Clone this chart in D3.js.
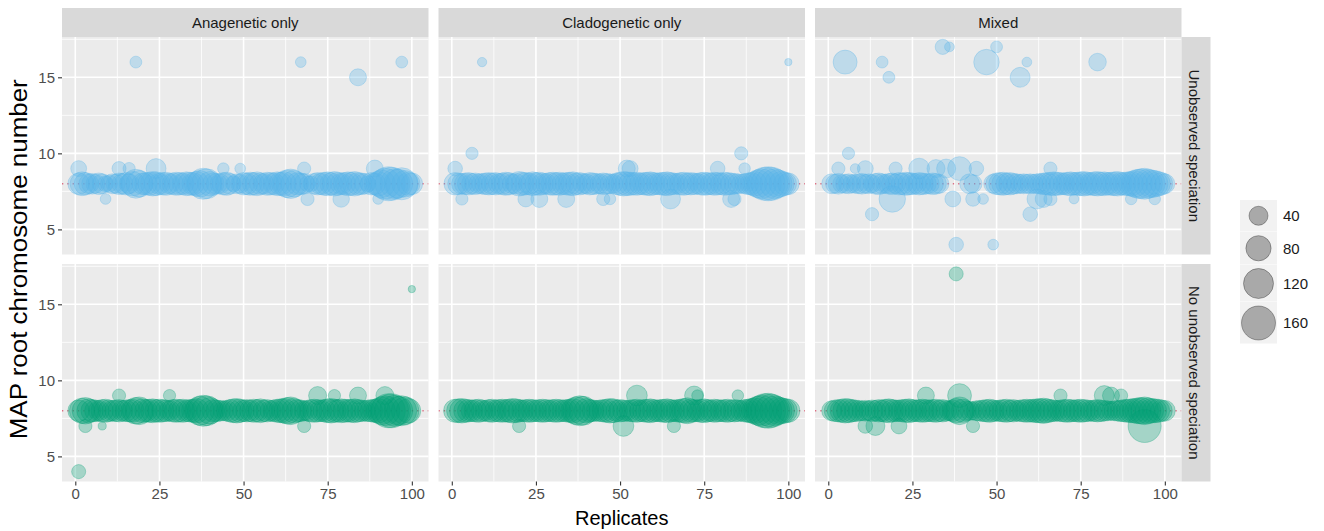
<!DOCTYPE html>
<html><head><meta charset="utf-8">
<script src="https://cdn.jsdelivr.net/npm/d3@7"></script>
<style>body{margin:0;background:#fff} svg{display:block} text{font-family:"Liberation Sans",Arial,sans-serif}</style>
</head><body><svg id="c" width="1324" height="531"></svg>
<script>
// ---------- data ----------
const columns = ["Anagenetic only", "Cladogenetic only", "Mixed"];
const rows = ["Unobserved speciation", "No unobserved speciation"];
const replicates = d3.range(1, 101);
const xTicks = [0, 25, 50, 75, 100];
const yTicks = [5, 10, 15];
const legendSizes = [40, 80, 120, 160];
const trueRoot = 8;

// size of the point at root number 8 for each replicate (0 = no point)
const anaUnobs8 = [55,70,60,45,50,40,55,45,25,30, 45,40,55,50,60,45,75,110,90,55, 60,65,75,70,55,60,65,50,55,65, 60,55,70,65,60,75,90,130,120,75, 55,50,45,60,65,50,25,45,40,60, 55,65,60,70,55,50,65,60,55,70, 65,75,100,115,90,60,55,50,25,25, 50,60,55,65,70,60,75,65,55,60, 70,65,75,60,55,50,25,60,55,75, 100,130,160,150,120,110,140,90,65,55];
const cladoUnobs8 = [60,55,50,55,60,50,55,45,50,55, 60,55,60,50,55,65,60,45,50,75, 65,60,55,70,60,65,55,50,60,65, 60,65,55,60,65,70,55,60,50,45, 60,55,50,45,55,50,45,40,55,65, 75,70,65,60,65,55,60,65,70,60, 55,60,65,70,60,55,50,60,65,55, 60,55,50,60,65,60,55,65,60,55, 65,60,55,50,45,40,45,55,60,75, 100,120,150,160,150,120,100,80,65,55];
const mixedUnobs8 = [45,40,50,35,40,45,35,40,45,50, 40,45,35,50,55,45,40,50,55,45, 60,55,65,60,55,50,60,55,50,45, 55,50,40,0,0,0,0,0,0,0, 0,45,35,0,0,0,0,0,40,55, 60,65,55,60,50,45,40,45,40,45, 40,45,50,55,60,65,70,65,60,55, 65,70,60,65,70,75,65,60,70,75, 65,70,60,65,70,75,60,65,70,75, 90,110,120,130,110,100,90,75,60,45];
const anaNo8 = [55,80,90,70,60,55,50,60,65,55, 50,55,60,50,55,60,65,90,100,70, 60,65,70,60,65,60,55,50,60,65, 60,65,55,60,65,75,110,130,120,90, 60,55,50,45,50,60,70,75,65,55, 60,55,65,60,70,55,60,50,55,65, 70,75,90,100,75,60,55,45,50,60, 65,60,55,60,70,75,65,60,70,65, 60,65,70,60,55,50,55,60,65,75, 100,120,160,160,130,110,120,100,75,0];
const cladoNo8 = [65,70,75,65,60,55,60,65,55,50, 60,65,55,60,65,60,65,75,70,60, 55,60,65,60,55,60,65,60,55,60, 65,60,55,60,65,75,100,120,110,75, 60,55,50,55,60,65,75,70,55,60, 55,50,55,60,65,55,60,65,70,60, 55,60,65,70,60,55,60,65,75,85, 65,60,55,65,70,60,55,65,60,55, 60,65,55,60,55,50,60,65,75,85, 110,130,160,170,150,120,100,85,75,65];
const mixedNo8 = [45,55,60,65,75,70,60,55,50,45, 50,45,55,50,60,55,65,70,60,55, 55,60,65,70,60,55,60,65,60,55, 60,65,55,60,50,45,55,75,100,65, 45,40,35,45,50,55,60,65,55,50, 55,60,65,55,60,50,55,60,65,60, 65,70,75,80,70,60,55,50,55,60, 65,60,55,60,65,60,55,50,55,60, 55,50,45,40,45,50,55,60,65,70, 75,85,90,100,85,75,70,65,55,50];

// other estimates: [replicate, root number, size]
const anaUnobsOther = [[18,16,11],[67,16,8],[84,15,30],[97,16,11],[1,9,25],[13,9,18],[16,9,12],[24,9,45],[44,9,10],[49,9,8],[68,9,15],[89,9,30],[9,7,8],[69,7,15],[79,7,28],[90,7,8]];
const cladoUnobsOther = [[9,16,5],[100,16,2],[6,10,12],[86,10,15],[1,9,20],[52,9,30],[53,9,25],[79,9,20],[87,9,10],[3,7,12],[22,7,25],[26,7,30],[34,7,30],[45,7,15],[47,7,10],[65,7,45],[83,7,30],[84,7,15]];
const mixedUnobsOther = [[5,16,71],[16,16,11],[18,15,11],[34,17,22],[36,17,6],[47,16,82],[50,17,11],[59,16,6],[57,15,45],[80,16,33],[6,10,12],[3,9,15],[8,9,6],[11,9,25],[20,9,15],[27,9,50],[32,9,35],[35,9,40],[39,9,70],[44,9,20],[66,9,15],[19,7,90],[37,7,25],[43,7,20],[46,7,8],[62,7,45],[64,7,30],[66,7,15],[73,7,6],[90,7,10],[97,7,10],[13,6,15],[60,6,20],[38,4,20],[49,4,8]];
const anaNoOther = [[1,4,18],[100,16,2],[13,9,15],[28,9,12],[72,9,35],[77,9,12],[84,9,30],[92,9,35],[3,7,15],[8,7,3],[68,7,15]];
const cladoNoOther = [[55,9,50],[72,9,40],[73,9,10],[85,9,10],[20,7,15],[51,7,50],[66,7,15]];
const mixedNoOther = [[38,17,18],[29,9,30],[39,9,70],[69,9,15],[82,9,45],[84,9,30],[87,9,15],[11,7,20],[14,7,40],[21,7,25],[43,7,15],[94,7,150]];

const panelMain = [[anaUnobs8, cladoUnobs8, mixedUnobs8], [anaNo8, cladoNo8, mixedNo8]];
const panelOther = [[anaUnobsOther, cladoUnobsOther, mixedUnobsOther], [anaNoOther, cladoNoOther, mixedNoOther]];
const rowColors = ["#56B4E9", "#009E73"];

// ---------- layout ----------
const svg = d3.select("#c");
const colX = [62, 438.5, 815], pw = 366.5;
const rowY = [37, 264], ph = 217.5;
const stripTop = 8;
const font = '"Liberation Sans", Arial, sans-serif';

const x = d3.scaleLinear().domain([1 - 4.95, 100 + 4.95]).range([0, pw]);
const y = d3.scaleLinear().domain([4 - 0.65, 17 + 0.65]).range([ph, 0]);
const r = d3.scaleSqrt().domain([0, 160]).range([2, 17]);

svg.append("defs").append("clipPath").attr("id", "pclip")
  .append("rect").attr("width", pw).attr("height", ph);

const xMinor = [12.5, 37.5, 62.5, 87.5];
const yMinor = [7.5, 12.5, 17.5];

rows.forEach((rowName, ri) => {
  columns.forEach((colName, ci) => {
    const g = svg.append("g").attr("transform", `translate(${colX[ci]},${rowY[ri]})`);
    g.append("rect").attr("width", pw).attr("height", ph).attr("fill", "#EBEBEB");
    g.selectAll(".minx").data(xMinor).join("line")
      .attr("x1", d => x(d)).attr("x2", d => x(d)).attr("y1", 0).attr("y2", ph)
      .attr("stroke", "#fff").attr("stroke-width", 0.8);
    g.selectAll(".miny").data(yMinor).join("line")
      .attr("y1", d => y(d)).attr("y2", d => y(d)).attr("x1", 0).attr("x2", pw)
      .attr("stroke", "#fff").attr("stroke-width", 0.8);
    g.append("g").selectAll("line").data(xTicks).join("line")
      .attr("x1", d => x(d)).attr("x2", d => x(d)).attr("y1", 0).attr("y2", ph)
      .attr("stroke", "#fff").attr("stroke-width", 1.6);
    g.append("g").selectAll("line").data(yTicks).join("line")
      .attr("y1", d => y(d)).attr("y2", d => y(d)).attr("x1", 0).attr("x2", pw)
      .attr("stroke", "#fff").attr("stroke-width", 1.6);

    const pg = g.append("g").attr("clip-path", "url(#pclip)");
    pg.append("line").attr("x1", 0).attr("x2", pw).attr("y1", y(trueRoot)).attr("y2", y(trueRoot))
      .attr("stroke", "#D9506A").attr("stroke-width", 1.3).attr("stroke-dasharray", "1.3,4").attr("opacity", 0.8);

    const pts = panelMain[ri][ci].map((s, i) => ({ rep: replicates[i], v: trueRoot, s }))
      .filter(d => d.s > 0)
      .concat(panelOther[ri][ci].map(d => ({ rep: d[0], v: d[1], s: d[2] })));
    const col = rowColors[ri];
    pg.selectAll("circle").data(pts).join("circle")
      .attr("cx", d => x(d.rep)).attr("cy", d => y(d.v)).attr("r", d => r(d.s))
      .attr("fill", col).attr("fill-opacity", 0.3)
      .attr("stroke", col).attr("stroke-opacity", 0.3).attr("stroke-width", 1);

    // top strips
    if (ri === 0) {
      const sg = svg.append("g").attr("transform", `translate(${colX[ci]},${stripTop})`);
      sg.append("rect").attr("width", pw).attr("height", rowY[0] - stripTop).attr("fill", "#D9D9D9");
      sg.append("text").attr("x", pw / 2).attr("y", (rowY[0] - stripTop) / 2).attr("dy", "0.36em")
        .attr("text-anchor", "middle").attr("font-size", 15).attr("fill", "#1A1A1A").text(colName);
    }
    // x axis on bottom row
    if (ri === 1) {
      const ax = g.append("g").attr("transform", `translate(0,${ph})`)
        .call(d3.axisBottom(x).tickValues(xTicks).tickSize(4).tickPadding(3));
      ax.select(".domain").remove();
      ax.selectAll("line").attr("stroke", "#333333").attr("stroke-width", 1.1);
      ax.selectAll("text").attr("fill", "#4D4D4D").attr("font-size", 15).attr("font-family", font);
    }
    // y axis on left column
    if (ci === 0) {
      const ay = g.append("g").call(d3.axisLeft(y).tickValues(yTicks).tickSize(4).tickPadding(3));
      ay.select(".domain").remove();
      ay.selectAll("line").attr("stroke", "#333333").attr("stroke-width", 1.1);
      ay.selectAll("text").attr("fill", "#4D4D4D").attr("font-size", 15).attr("font-family", font);
    }
  });
  // right strips
  const rx = colX[2] + pw;
  const rg = svg.append("g").attr("transform", `translate(${rx},${rowY[ri]})`);
  rg.append("rect").attr("width", 29).attr("height", ph).attr("fill", "#D9D9D9");
  rg.append("text").attr("transform", `translate(13,${ph / 2}) rotate(90)`).attr("dy", "0.36em")
    .attr("text-anchor", "middle").attr("font-size", 15).attr("fill", "#1A1A1A").text(rowName);
});

// axis titles
svg.append("text").attr("x", colX[0] + (colX[2] + pw - colX[0]) / 2).attr("y", 525)
  .attr("text-anchor", "middle").attr("font-size", 20).attr("fill", "#000").text("Replicates");
svg.append("text").attr("transform", `translate(27,${(rowY[0] + rowY[1] + ph) / 2}) rotate(-90)`)
  .attr("text-anchor", "middle").attr("font-size", 23).attr("fill", "#000")
  .attr("textLength", 360).attr("lengthAdjust", "spacingAndGlyphs")
  .text("MAP root chromosome number");

// legend
const keyBounds = [200, 231.5, 265, 302, 344];
const lg = svg.append("g");
legendSizes.forEach((s, i) => {
  const y0 = keyBounds[i], y1 = keyBounds[i + 1], cy = (y0 + y1) / 2;
  lg.append("rect").attr("x", 1240).attr("y", y0).attr("width", 37).attr("height", y1 - y0 - 0.5).attr("fill", "#F2F2F2");
  lg.append("circle").attr("cx", 1258.5).attr("cy", cy).attr("r", r(s))
    .attr("fill", "#000").attr("fill-opacity", 0.3).attr("stroke", "#000").attr("stroke-opacity", 0.3).attr("stroke-width", 1);
  lg.append("text").attr("x", 1283).attr("y", cy).attr("dy", "0.36em").attr("font-size", 15).attr("fill", "#1A1A1A").text(s);
});
</script></body></html>
